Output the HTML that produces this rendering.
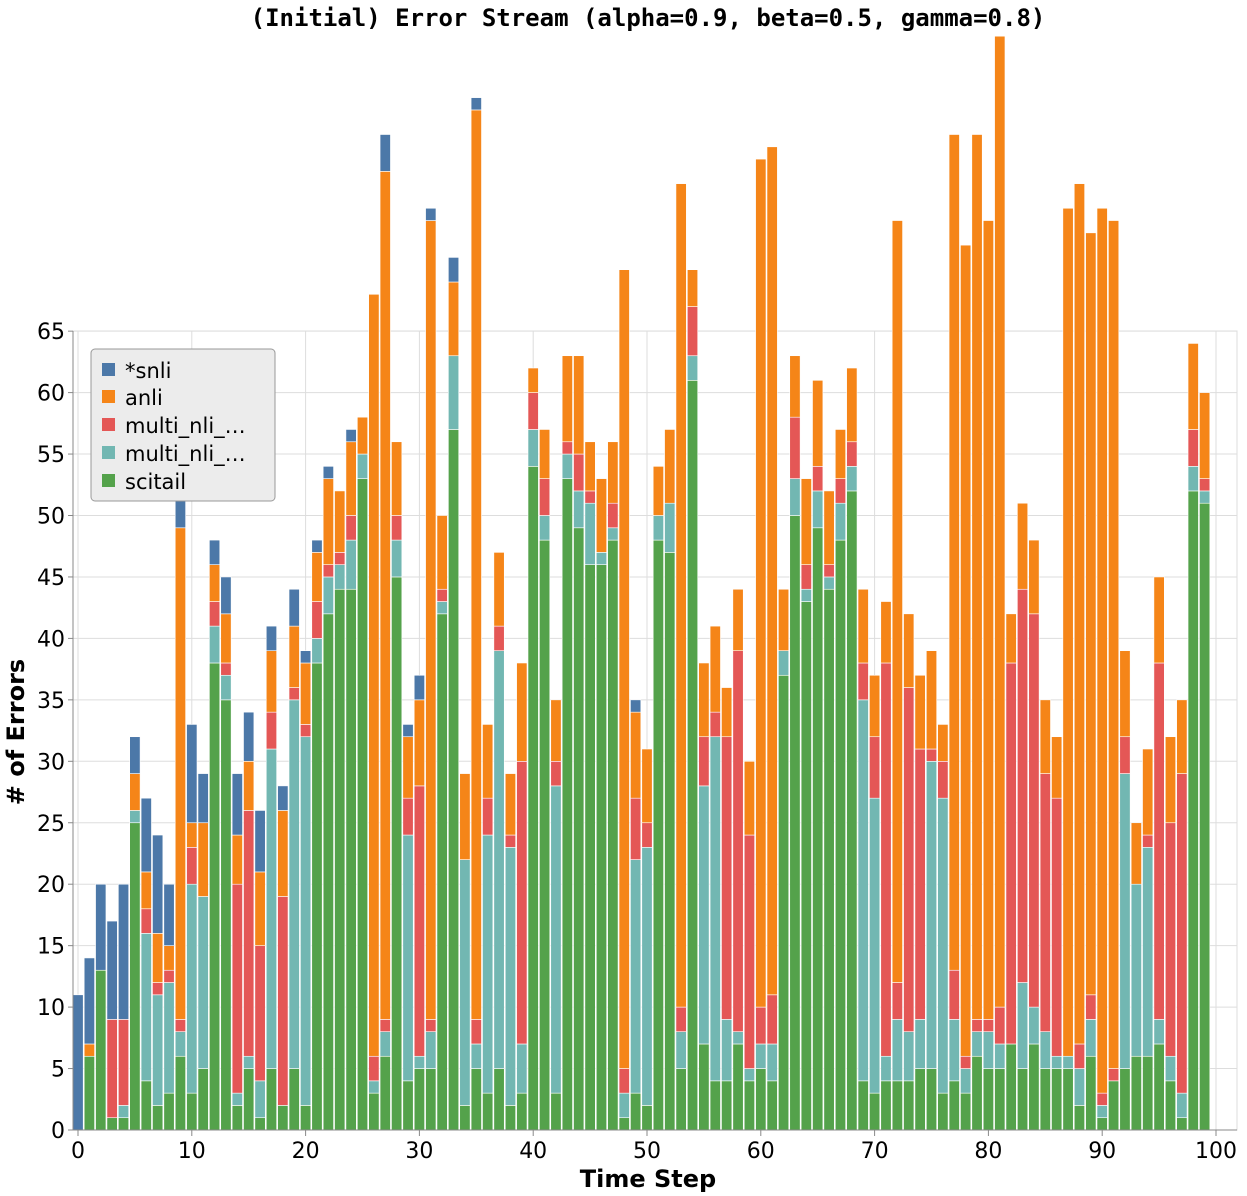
<!DOCTYPE html>
<html><head><meta charset="utf-8"><style>
html,body{margin:0;padding:0;background:#fff;}
svg{display:block;font-family:"DejaVu Sans","Liberation Sans",sans-serif;}
</style></head><body>
<svg id="chart" width="1247" height="1196" viewBox="0 0 1247 1196" xmlns="http://www.w3.org/2000/svg">
<text x="648" y="26" text-anchor="middle" font-family="DejaVu Sans Mono, Liberation Mono, monospace" font-weight="bold" font-size="24">(Initial) Error Stream (alpha=0.9, beta=0.5, gamma=0.8)</text>
<g id="grid"></g>
<g id="bars"></g>
<g id="axes"></g>
<text transform="translate(24,732) rotate(-90)" text-anchor="middle" font-weight="bold" font-size="24"># of Errors</text>
<text x="648" y="1187" text-anchor="middle" font-weight="bold" font-size="24">Time Step</text>
<g>
<rect x="91" y="349" width="184" height="152" rx="4" fill="#ececec" stroke="#999" stroke-width="1"/>
<g><rect x="102" y="363" width="13" height="13" fill="#4c78a8"/><text x="125" y="378" font-size="21">*snli</text></g>
<g><rect x="102" y="390" width="13" height="13" fill="#f58518"/><text x="125" y="405" font-size="21">anli</text></g>
<g><rect x="102" y="418" width="13" height="13" fill="#e45756"/><text x="125" y="433" font-size="21">multi_nli_…</text></g>
<g><rect x="102" y="446" width="13" height="13" fill="#72b7b2"/><text x="125" y="461" font-size="21">multi_nli_…</text></g>
<g><rect x="102" y="474" width="13" height="13" fill="#54a24b"/><text x="125" y="489" font-size="21">scitail</text></g>
</g>
</svg>
<script>
const steps = Array.from({length:100},(_,i)=>i);
const scitail = [0,6,13,1,1,25,4,2,3,6,3,5,38,35,2,5,1,5,2,5,2,38,42,44,44,53,3,6,45,4,5,5,42,57,2,5,3,5,2,3,54,48,3,53,49,46,46,48,1,3,2,48,47,5,61,7,4,4,7,4,5,4,37,50,43,49,44,48,52,4,3,4,4,4,5,5,3,4,3,6,5,5,7,5,7,5,5,5,2,6,1,4,5,6,6,7,4,1,52,51];
const mnliMismatched = [0,0,0,0,1,1,12,9,9,2,17,14,3,2,1,1,3,26,0,30,30,2,3,2,4,2,1,2,3,20,1,3,1,6,20,2,21,34,21,4,3,2,25,2,3,5,1,1,2,19,21,2,4,3,2,21,28,5,1,1,2,3,2,3,1,3,1,3,2,31,24,2,5,4,4,25,24,5,2,2,3,2,0,7,3,3,1,1,3,3,1,0,24,14,17,2,2,2,2,1];
const mnliMatched = [0,0,0,8,7,0,2,1,1,1,3,0,2,1,17,20,11,3,17,1,1,3,1,1,2,0,2,1,2,3,22,1,1,0,0,2,3,2,1,23,3,3,2,1,3,1,0,2,2,5,2,0,0,2,4,4,2,23,31,19,3,4,0,5,2,2,1,2,2,3,5,32,3,28,22,1,3,4,1,1,1,3,31,32,32,21,21,0,2,2,1,1,3,0,1,29,19,26,3,1];
const anli = [0,1,0,0,0,3,3,4,2,40,2,6,3,4,4,4,6,5,7,5,5,4,7,5,6,3,62,69,6,5,7,65,6,6,7,74,6,6,5,8,2,4,5,7,8,4,6,5,65,7,6,4,6,67,3,6,7,4,5,6,69,69,5,5,7,7,6,4,6,6,5,5,62,6,6,8,3,68,66,72,65,79,4,7,6,6,5,69,70,62,72,69,7,5,7,7,7,6,7,7];
const snli = [11,7,7,8,11,3,6,8,5,3,8,4,2,3,5,4,5,2,2,3,1,1,1,0,1,0,0,3,0,1,2,1,0,2,0,1,0,0,0,0,0,0,0,0,0,0,0,0,0,1,0,0,0,0,0,0,0,0,0,0,0,0,0,0,0,0,0,0,0,0,0,0,0,0,0,0,0,0,0,0,0,0,0,0,0,0,0,0,0,0,0,0,0,0,0,0,0,0,0,0];
const yTicks = [0,5,10,15,20,25,30,35,40,45,50,55,60,65];
const xTicks = [0,10,20,30,40,50,60,70,80,90,100];
const seriesList = [
  {name:'scitail', vals:scitail, color:'#54a24b'},
  {name:'multi-nli-mismatched', vals:mnliMismatched, color:'#72b7b2'},
  {name:'multi-nli-matched', vals:mnliMatched, color:'#e45756'},
  {name:'anli', vals:anli, color:'#f58518'},
  {name:'snli', vals:snli, color:'#4c78a8'}
];
const NS='http://www.w3.org/2000/svg';
const X0=78, XS=11.38, Y0=1130, YS=12.29, LEFT=73, RIGHT=1237, TOP=331;
function xScale(v){return X0+XS*v;}
function yScale(v){return Y0-YS*v;}
function mk(tag,attrs,parent){const e=document.createElementNS(NS,tag);for(const k in attrs)e.setAttribute(k,attrs[k]);parent.appendChild(e);return e;}
const grid=document.getElementById('grid'), bars=document.getElementById('bars'), axes=document.getElementById('axes');
yTicks.forEach(t=>{
  const l=mk('line',{x1:LEFT,x2:RIGHT,y1:yScale(t),y2:yScale(t),stroke:'#ddd','stroke-width':1},grid);
  
  
  const tk=mk('line',{x1:LEFT-5,x2:LEFT,y1:yScale(t),y2:yScale(t),stroke:'#888','stroke-width':1},axes);
  
  
  const tx=mk('text',{x:LEFT-8,y:yScale(t)+8,'text-anchor':'end','font-size':22},axes);
  tx.textContent=t;
  
  
});
xTicks.forEach(t=>{
  const l=mk('line',{x1:xScale(t),x2:xScale(t),y1:TOP,y2:Y0,stroke:'#ddd','stroke-width':1},grid);
  
  
  const tk=mk('line',{x1:xScale(t),x2:xScale(t),y1:Y0,y2:Y0+6,stroke:'#888','stroke-width':1},axes);
  
  
  const tx=mk('text',{x:xScale(t),y:Y0+28,'text-anchor':'middle','font-size':22},axes);
  tx.textContent=t;
  
  
});
const border=mk('rect',{x:LEFT,y:TOP,width:RIGHT-LEFT,height:Y0-TOP,fill:'none',stroke:'#ddd'},grid);


const yAxis=mk('line',{x1:LEFT,x2:LEFT,y1:TOP,y2:Y0,stroke:'#888'},axes);


const xAxis=mk('line',{x1:LEFT,x2:RIGHT,y1:Y0,y2:Y0,stroke:'#888'},axes);


steps.forEach((s,i)=>{
  let cum=0;
  seriesList.forEach(ser=>{
    const v=ser.vals[i];
    if(v>0){
      const r=mk('rect',{x:xScale(s)-5.2,y:yScale(cum+v),width:10.4,height:YS*v,fill:ser.color,stroke:'#fff','stroke-width':0.6},bars);
      
      
    }
    cum+=v;
  });
});
</script>
</body></html>
